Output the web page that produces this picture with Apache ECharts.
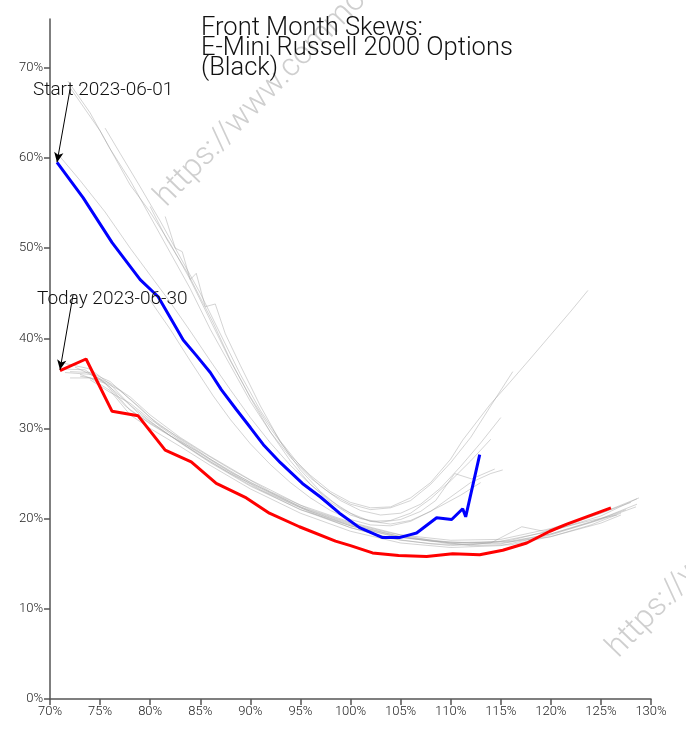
<!DOCTYPE html>
<html>
<head>
<meta charset="utf-8">
<script src="https://cdn.jsdelivr.net/npm/echarts@6/dist/echarts.min.js"></script>
<style>
html,body{margin:0;padding:0;background:#fff;}
#chart{width:686px;height:730px;}
</style>
</head>
<body>
<div id="chart"></div>
<script>
// ---- data (moneyness %, implied vol %) ----
var titleLines = ['Front Month Skews:', 'E-Mini Russell 2000 Options', '(Black)'];
var startLabel = 'Start 2023-06-01';
var todayLabel = 'Today 2023-06-30';
var watermarkText = 'https://www.commodityvol.com';

var startSkew = [[70.7,59.5],[73.3,55.6],[76.2,50.6],[79.0,46.5],[80.8,44.6],[82.0,42.3],[83.3,39.8],[84.6,38.1],[86.0,36.2],[87.1,34.3],[88.6,32.1],[90.0,30.1],[91.3,28.2],[93.0,26.2],[95.2,23.9],[97.0,22.4],[98.9,20.6],[100.9,19.0],[103.2,17.9],[104.9,17.9],[105.9,18.2],[106.6,18.4],[108.6,20.1],[110.1,19.9],[111.2,21.1],[111.5,20.2],[112.9,27.1]];
var todaySkew = [[71.0,36.4],[73.6,37.7],[76.2,31.9],[78.8,31.4],[81.5,27.6],[84.1,26.3],[86.6,23.9],[89.6,22.3],[91.9,20.6],[94.9,19.1],[98.5,17.5],[100.0,17.0],[102.2,16.2],[104.8,15.9],[107.6,15.8],[110.2,16.1],[112.9,16.0],[115.2,16.5],[117.6,17.3],[119.9,18.6],[121.6,19.4],[126.0,21.2]];

var upper1 = [[72.0,67.8],[75.0,63.0],[78.0,57.0],[80.0,54.0],[82.0,50.5],[84.0,46.5],[86.0,42.0],[88.0,37.5],[90.0,33.5],[92.0,30.0],[94.0,27.0],[96.0,24.8],[98.0,23.0],[100.0,21.8],[102.0,21.2],[104.0,21.3],[106.0,22.3],[108.0,24.0],[110.0,26.6],[111.2,28.7],[113.9,32.6],[115.9,35.1],[118.0,37.8],[120.0,40.4],[122.0,43.0],[123.7,45.3]];
var upper2 = [[71.8,68.5],[74.0,65.0],[76.0,61.0],[78.0,57.5],[80.0,53.5],[82.0,49.5],[84.0,45.5],[86.0,41.0],[88.0,37.0],[90.0,33.0],[92.0,29.6],[94.0,26.8],[96.0,24.5],[98.0,22.8],[100.0,21.6],[102.0,21.0],[104.0,21.2],[106.0,22.0],[108.0,23.8],[110.0,26.2],[112.0,29.0],[114.0,32.5],[116.2,36.3]];
var upper3 = [[75.5,63.3],[77.0,60.5],[79.0,56.8],[81.0,53.0],[83.0,49.0],[85.0,45.0],[87.0,40.5],[89.0,36.0],[91.0,32.0],[93.0,28.6],[95.0,25.8],[97.0,23.6],[99.0,22.0],[101.0,20.9],[103.0,20.4],[105.0,20.6],[107.0,21.6],[109.0,23.4],[111.0,25.8],[113.0,28.4],[115.0,31.2]];
var upper4 = [[81.5,53.5],[82.5,50.0],[83.2,49.6],[84.0,46.5],[84.6,47.2],[85.5,43.5],[86.5,43.8],[87.5,40.5],[89.0,37.0],[91.0,32.5],[93.0,28.5],[95.0,25.4],[97.0,23.0],[99.0,21.2],[101.0,20.0],[103.0,19.6],[105.0,19.9],[107.0,20.8],[108.5,22.0],[110.4,25.0],[112.1,24.4],[114.4,25.5]];
var upper5 = [[80.0,54.6],[81.7,50.9],[83.7,47.3],[86.3,41.7],[88.0,37.6],[90.0,33.4],[92.0,29.6],[94.0,26.4],[96.0,23.8],[98.0,21.8],[100.0,20.4],[102.0,19.7],[104.0,19.8],[106.0,20.6],[108.0,22.2],[110.0,24.2],[112.0,26.4],[114.0,28.8]];
var upper6 = [[70.8,60.4],[73.0,57.5],[75.5,54.0],[78.0,50.0],[80.0,47.0],[82.0,44.0],[84.0,40.8],[86.0,37.5],[88.0,34.3],[90.0,31.2],[92.0,28.4],[94.0,25.9],[96.0,23.8],[98.0,22.0],[100.0,20.6],[102.0,19.7],[104.0,19.4],[106.0,19.8],[108.0,20.8],[110.0,22.4],[112.0,24.0],[114.0,25.0],[115.2,25.4]];
var upper7 = [[80.0,44.2],[82.0,41.0],[84.0,37.5],[86.3,33.6],[88.0,31.0],[90.0,28.3],[92.0,26.0],[94.0,24.0],[96.0,22.3],[98.0,20.9],[100.0,19.9],[102.0,19.3],[104.0,19.2],[106.0,19.7],[107.6,20.6],[109.0,21.4],[111.0,22.6],[113.0,24.0]];

var lower1 = [[71.5,37.2],[74.0,36.6],[76.0,34.9],[78.0,32.6],[80.0,30.8],[83.0,28.4],[86.0,26.2],[90.0,23.6],[95.0,21.0],[100.0,19.2],[105.0,17.9],[110.0,17.3],[115.0,17.5],[120.0,18.6],[125.0,20.3],[128.6,22.2]];
var lower2 = [[72.0,36.3],[74.0,36.2],[76.0,35.2],[78.0,33.2],[80.0,31.2],[83.0,28.8],[86.0,26.6],[90.0,24.0],[95.0,21.3],[100.0,19.4],[105.0,18.0],[110.0,17.2],[115.0,17.2],[120.0,18.3],[125.0,20.0],[128.6,21.6]];
var lower3 = [[72.5,36.8],[75.0,35.5],[77.0,33.6],[79.0,31.5],[82.0,29.2],[85.0,27.0],[88.0,25.0],[92.0,22.8],[96.0,20.7],[100.0,19.0],[104.0,17.8],[108.0,17.2],[112.0,17.1],[116.0,17.6],[120.0,18.7],[124.0,19.8],[126.6,20.4]];
var lower4 = [[73.0,36.0],[75.5,35.0],[77.5,32.5],[80.0,30.5],[83.0,28.5],[86.0,26.3],[90.0,23.7],[95.0,21.0],[100.0,19.0],[105.0,17.6],[110.0,17.0],[114.0,17.3],[117.1,19.1],[119.3,18.6],[122.0,19.4],[125.0,20.6],[128.0,21.8]];
var lower5 = [[71.0,36.6],[73.5,36.5],[76.0,34.6],[78.0,32.0],[80.0,30.6],[82.0,29.2],[85.0,27.3],[88.0,25.2],[92.0,22.9],[96.0,20.8],[100.0,19.2],[104.0,18.1],[108.0,17.5],[112.0,17.3],[116.0,17.5],[120.0,18.3],[124.0,19.6],[127.5,21.0]];
var lower6 = [[72.0,35.6],[74.0,35.6],[76.0,34.2],[78.0,31.5],[80.0,30.0],[83.0,28.0],[86.0,25.9],[90.0,23.3],[95.0,20.6],[100.0,18.6],[105.0,17.3],[110.0,16.8],[115.0,17.0],[120.0,18.2],[125.0,19.9],[128.5,21.3]];
var lower7 = [[73.0,35.8],[75.0,35.4],[77.0,34.2],[79.0,32.3],[81.0,30.2],[84.0,27.9],[87.0,25.8],[91.0,23.2],[95.0,21.2],[100.0,19.3],[105.0,18.0],[110.0,17.4],[115.0,17.3],[120.0,18.0],[125.0,19.5],[127.0,20.4]];
var lower8 = [[71.5,36.2],[74.0,36.0],[76.0,35.0],[78.0,33.5],[80.0,31.5],[83.0,29.0],[86.0,26.9],[90.0,24.3],[95.0,21.5],[100.0,19.6],[105.0,18.2],[110.0,17.6],[115.0,17.7],[120.0,18.9],[125.0,20.6],[128.8,22.3]];
var lower9 = [[74.0,35.4],[76.0,34.0],[78.0,32.8],[80.0,31.0],[82.0,29.6],[85.0,27.5],[88.0,25.5],[92.0,23.0],[96.0,21.0],[100.0,19.5],[104.0,18.4],[108.0,17.6],[112.0,17.0],[116.0,17.1],[120.0,18.0],[124.0,19.3],[127.0,20.6]];

var grayLines = [upper1, upper2, upper3, upper4, upper5, upper6, upper7,
                 lower1, lower2, lower3, lower4, lower5, lower6, lower7, lower8, lower9];

// annotation arrows: [from, to] in data coords
var startArrow = [[72.0,67.6],[70.7,59.5]];
var todayArrow = [[72.3,44.8],[71.0,36.5]];

var xMin = 70, xMax = 130, xStep = 5;
var yMin = 0, yMax = 75.4, yStep = 10;

var chart = echarts.init(document.getElementById('chart'), null, {renderer:'canvas'});

var series = [];
grayLines.forEach(function(d){
  series.push({type:'line', data:d, symbol:'none', silent:true,
    lineStyle:{color:'rgba(160,160,160,0.45)', width:1}, z:2});
});
series.push({type:'line', data:todaySkew, symbol:'none', z:4,
  lineStyle:{color:'#ff0000', width:3},
  markLine:{symbol:['none','arrow'], symbolSize:[7,10], silent:true,
    lineStyle:{color:'#000', width:1, type:'solid'}, label:{show:false},
    data:[[{coord:todayArrow[0]},{coord:todayArrow[1]}]]}
});
series.push({type:'line', data:startSkew, symbol:'none', z:5,
  lineStyle:{color:'#0000ff', width:3},
  markLine:{symbol:['none','arrow'], symbolSize:[7,10], silent:true,
    lineStyle:{color:'#000', width:1, type:'solid'}, label:{show:false},
    data:[[{coord:startArrow[0]},{coord:startArrow[1]}]]}
});

var labelFont = {fontFamily:'Roboto', fontSize:13, color:'#222', fontWeight:300};

chart.setOption({
  animation:false,
  backgroundColor:'#fff',
  grid:{left:50, right:35, top:19, bottom:31, containLabel:false},
  xAxis:{type:'value', min:xMin, max:xMax, interval:xStep,
    axisLine:{show:true, onZero:false, lineStyle:{color:'#555', width:1.5}},
    axisTick:{show:true, length:6, lineStyle:{color:'#555', width:1.5}},
    splitLine:{show:false},
    axisLabel:Object.assign({margin:6, formatter:function(v){return v+'%';}}, labelFont)
  },
  yAxis:{type:'value', min:yMin, max:yMax, interval:yStep,
    axisLine:{show:true, onZero:false, lineStyle:{color:'#555', width:1.5}},
    axisTick:{show:true, length:6, lineStyle:{color:'#555', width:1.5}},
    splitLine:{show:false},
    axisLabel:Object.assign({margin:7, showMaxLabel:false, formatter:function(v){return v+'%';}}, labelFont)
  },
  graphic:[
    {type:'text', x:172, y:213, rotation:0.80, z:0, silent:true,
      style:{text:watermarkText, fill:'#cfcfcf', font:'300 32px Roboto', textAlign:'left', textVerticalAlign:'bottom'}},
    {type:'text', x:624, y:664, rotation:0.80, z:0, silent:true,
      style:{text:watermarkText, fill:'#cfcfcf', font:'300 32px Roboto', textAlign:'left', textVerticalAlign:'bottom'}},
    {type:'text', x:201, y:19, z:100, silent:true,
      style:{text:titleLines.join('\n'), fill:'#111', font:'300 25.5px Roboto', lineHeight:20}},
    {type:'text', x:33, y:81, z:100, silent:true,
      style:{text:startLabel, fill:'#111', font:'300 19px Roboto'}},
    {type:'text', x:37, y:290, z:100, silent:true,
      style:{text:todayLabel, fill:'#111', font:'300 19px Roboto'}}
  ],
  series:series
});
</script>
</body>
</html>
